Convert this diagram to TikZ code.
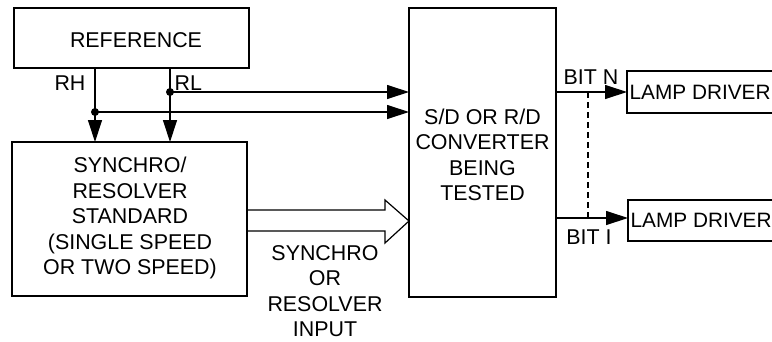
\documentclass[tikz,border=0pt]{standalone}
\usepackage{fontspec}
\setmainfont{Liberation Sans}
\usetikzlibrary{arrows.meta}
\begin{document}
\begin{tikzpicture}[x=1pt,y=-1pt,line width=1.2pt,
  lbl/.style={font=\fontsize{21.4}{25.5}\selectfont,align=center,inner sep=0pt},
  lamplbl/.style={font=\fontsize{20.8}{25}\selectfont,inner sep=0pt,anchor=west},
  box/.style={draw,line width=1.2pt},
  arr/.style={-{Triangle[length=22pt,width=14pt]}},
  dot/.style={circle,fill,inner sep=0pt,minimum size=8pt}]
\clip (0,0) rectangle (772,341);
% boxes
\draw[box] (14,8) rectangle (249,68);
\node[lbl] (ref) at (136,40) {REFERENCE};
\draw[box] (12,142) rectangle (247,296);
\node[lbl] (syn) at (130,218) {SYNCHRO/\\RESOLVER\\STANDARD\\(SINGLE SPEED\\OR TWO SPEED)};
\draw[box] (409,8) rectangle (556,297);
\node[lbl] (conv) at (482.5,155) {S/D OR R/D\\CONVERTER\\BEING\\TESTED};
\draw[box] (627,71) rectangle (800,113);
\node[lamplbl] (lamp1) at (629,92) {LAMP DRIVER};
\draw[box] (628,200) rectangle (800,241);
\node[lamplbl] (lamp2) at (630,220) {LAMP DRIVER};
% reference lines
\coordinate (rhTop) at (95,68);
\coordinate (rlTop) at (170,68);
\coordinate (rhEnd) at (95,142);
\coordinate (rlEnd) at (170,142);
\node[dot] (rldot) at (170,92) {};
\node[dot] (rhdot) at (95,112) {};
\draw[arr] (rhTop) -- (rhEnd);
\draw[arr] (rlTop) -- (rlEnd);
\coordinate (c1) at (409,92);
\coordinate (c2) at (409,112);
\draw[arr] (rldot.center) -- (c1);
\draw[arr] (rhdot.center) -- (c2);
\node[lbl] (rh) at (70,83) {RH};
\node[lbl,anchor=west] (rl) at (174,83) {RL};
% hollow arrow
\draw[line width=1.2pt,line join=miter] (247,210) -- (385,210) -- (385,200) -- (409,221) -- (385,243) -- (385,231) -- (247,231);
\node[lbl] (inp) at (325,291) {SYNCHRO\\OR\\RESOLVER\\INPUT};
% bit lines
\coordinate (bn) at (556,92);
\coordinate (bi) at (556,218);
\draw[arr] (bn) -- (627,92);
\draw[arr] (bi) -- (628,218);
\coordinate (dN) at (588,92);
\coordinate (dI) at (588,218);
\draw[dashed,dash pattern=on 6pt off 4pt] (dN) -- (dI);
\node[lbl] (bitn) at (591,77) {BIT N};
\node[lbl] (biti) at (589,237) {BIT I};
\end{tikzpicture}
\end{document}
